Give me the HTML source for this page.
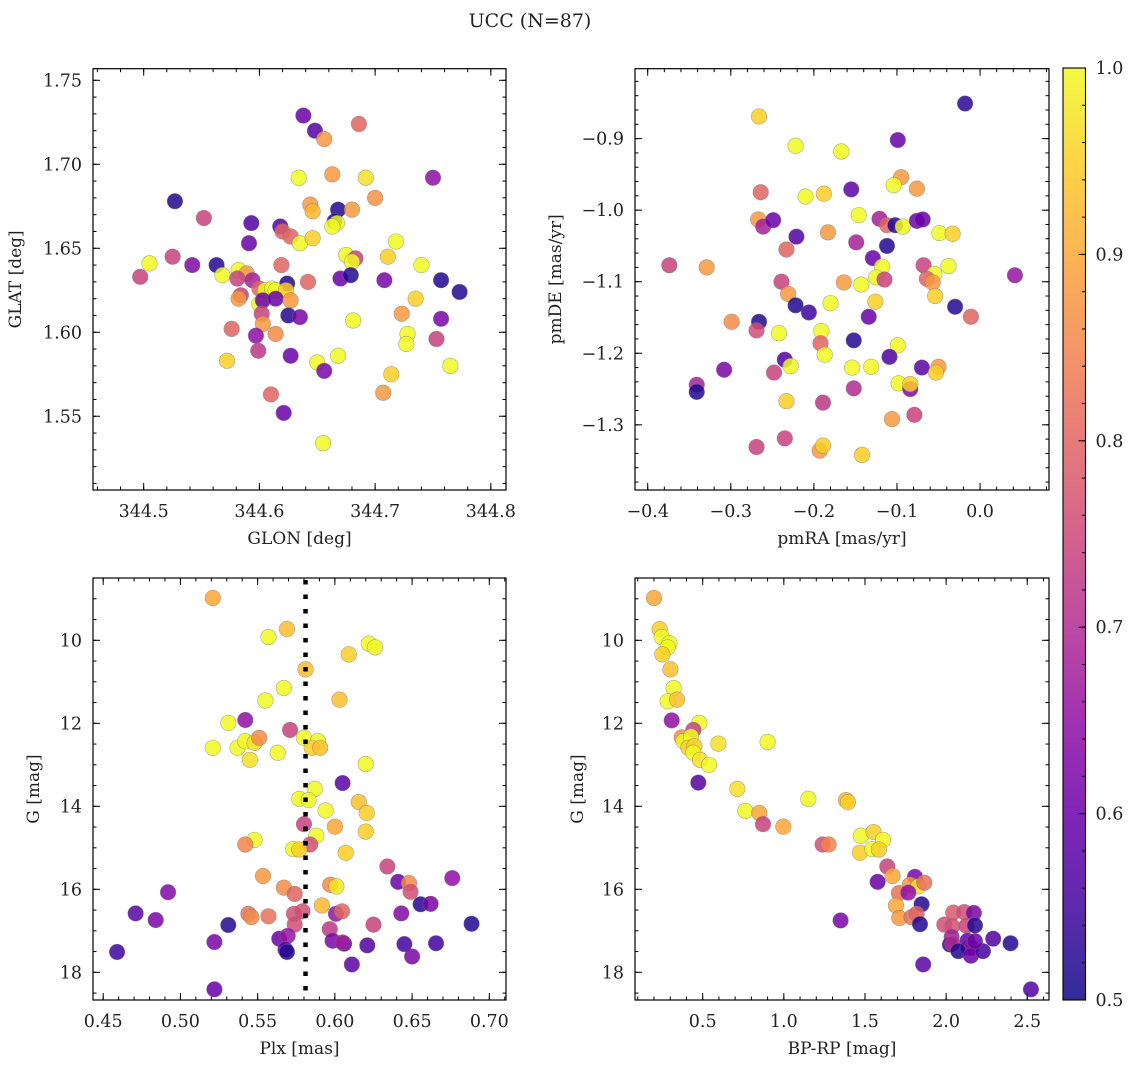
<!DOCTYPE html>
<html><head><meta charset="utf-8"><style>
html,body{margin:0;padding:0;background:#fff;}
svg text{font-family:"DejaVu Serif","Liberation Serif",serif;fill:#222;}
</style></head><body>
<svg id="fig" width="1136" height="1067" viewBox="0 0 1136 1067" xmlns="http://www.w3.org/2000/svg">
<text x="530" y="27" font-size="19" text-anchor="middle">UCC (N=87)</text>
</svg>
<script>
// ---- Panel 1: GLON / GLAT ----
const glon=[344.638,344.648,344.656,344.686,344.634,344.663,344.692,344.750,344.527,344.700,344.644,344.646,344.668,344.680,344.552,344.593,344.618,344.620,344.627,344.665,344.667,344.663,344.635,344.646,344.718,344.591,344.525,344.505,344.542,344.563,344.497,344.568,344.582,344.589,344.581,344.594,344.619,344.675,344.683,344.680,344.711,344.740,344.624,344.600,344.605,344.611,344.614,344.623,344.642,344.670,344.679,344.708,344.757,344.773,344.584,344.582,344.600,344.603,344.614,344.627,344.735,344.602,344.625,344.635,344.723,344.681,344.757,344.603,344.576,344.597,344.614,344.728,344.727,344.753,344.599,344.627,344.572,344.650,344.668,344.656,344.765,344.714,344.707,344.610,344.621,344.655];
const glat=[1.729,1.720,1.715,1.724,1.692,1.694,1.692,1.692,1.678,1.680,1.676,1.672,1.673,1.673,1.668,1.665,1.663,1.660,1.657,1.666,1.665,1.663,1.653,1.656,1.654,1.653,1.645,1.641,1.640,1.640,1.633,1.634,1.637,1.635,1.632,1.631,1.640,1.646,1.644,1.642,1.645,1.640,1.629,1.626,1.625,1.626,1.625,1.625,1.630,1.632,1.634,1.631,1.631,1.624,1.622,1.620,1.617,1.619,1.620,1.619,1.620,1.611,1.610,1.609,1.611,1.607,1.608,1.605,1.602,1.598,1.599,1.599,1.593,1.596,1.589,1.586,1.583,1.582,1.586,1.577,1.580,1.575,1.564,1.563,1.552,1.534];
const c1=[0.6,0.57,0.88,0.8,1,0.88,0.97,0.65,0.52,0.87,0.88,0.92,0.52,0.88,0.74,0.57,0.57,0.8,0.8,0.52,1,1,1,0.95,1,0.6,0.74,1,0.63,0.52,0.74,1,1,0.88,0.74,0.68,0.8,1,0.74,1,0.95,1,0.52,0.8,1,1,1,0.95,0.8,0.6,0.52,0.62,0.52,0.52,0.74,0.88,1,0.6,0.6,0.88,0.95,0.74,0.52,0.62,0.88,1,0.62,0.88,0.8,0.65,0.86,1,1,0.74,0.72,0.6,0.95,1,1,0.62,1,0.95,0.88,0.8,0.6,1];
// ---- Panel 2: pmRA / pmDE ----
const pmra=[-0.018,-0.266,-0.099,-0.222,-0.167,-0.264,-0.210,-0.188,-0.155,-0.095,-0.104,-0.076,-0.267,-0.261,-0.249,-0.146,-0.121,-0.112,-0.102,-0.093,-0.076,-0.069,-0.221,-0.183,-0.049,-0.033,-0.233,-0.149,-0.112,-0.374,-0.329,-0.129,-0.118,-0.068,-0.038,0.042,-0.055,-0.064,-0.057,-0.054,-0.239,-0.231,-0.164,-0.143,-0.125,-0.115,-0.126,-0.180,-0.222,-0.206,-0.030,-0.011,-0.134,-0.299,-0.266,-0.269,-0.242,-0.191,-0.192,-0.152,-0.099,-0.187,-0.235,-0.228,-0.154,-0.131,-0.109,-0.070,-0.050,-0.053,-0.308,-0.248,-0.341,-0.341,-0.152,-0.098,-0.084,-0.084,-0.233,-0.189,-0.079,-0.106,-0.269,-0.235,-0.193,-0.189,-0.142];
const pmde=[-0.851,-0.869,-0.902,-0.910,-0.918,-0.975,-0.981,-0.977,-0.971,-0.954,-0.965,-0.970,-1.013,-1.023,-1.014,-1.007,-1.012,-1.021,-1.021,-1.023,-1.015,-1.013,-1.037,-1.031,-1.032,-1.033,-1.055,-1.045,-1.050,-1.077,-1.080,-1.067,-1.079,-1.077,-1.078,-1.091,-1.089,-1.096,-1.101,-1.120,-1.100,-1.117,-1.101,-1.104,-1.094,-1.097,-1.128,-1.130,-1.133,-1.143,-1.135,-1.149,-1.149,-1.156,-1.156,-1.168,-1.172,-1.169,-1.186,-1.182,-1.189,-1.202,-1.209,-1.218,-1.220,-1.219,-1.205,-1.220,-1.219,-1.227,-1.223,-1.227,-1.244,-1.254,-1.249,-1.242,-1.250,-1.243,-1.267,-1.269,-1.286,-1.292,-1.331,-1.319,-1.336,-1.329,-1.342];
const c2=[0.53,0.95,0.6,1,1,0.8,1,0.95,0.58,0.88,1,0.88,0.88,0.68,0.6,1,0.68,0.8,0.52,1,0.6,0.6,0.57,0.88,1,0.95,0.8,0.68,0.52,0.74,0.88,0.6,1,0.74,1,0.66,1,0.8,0.88,0.95,0.74,0.88,0.88,1,1,0.74,0.95,1,0.52,0.55,0.52,0.8,0.6,0.86,0.52,0.76,1,1,0.8,0.52,1,1,0.57,1,1,1,0.57,0.58,0.88,0.95,0.62,0.74,0.68,0.52,0.7,1,0.63,0.95,0.95,0.72,0.74,0.88,0.74,0.74,0.88,0.95,0.95];
// ---- Panel 3: Plx / G ----
const plx=[0.521,0.557,0.569,0.622,0.626,0.609,0.581,0.567,0.555,0.603,0.531,0.542,0.571,0.521,0.537,0.542,0.548,0.551,0.545,0.563,0.580,0.589,0.585,0.5905,0.620,0.605,0.587,0.577,0.583,0.6155,0.594,0.6206,0.580,0.600,0.620,0.588,0.548,0.542,0.584,0.573,0.577,0.607,0.634,0.5535,0.641,0.676,0.648,0.649,0.597,0.601,0.567,0.574,0.492,0.6555,0.662,0.5916,0.471,0.484,0.544,0.546,0.557,0.5735,0.579,0.6007,0.6046,0.643,0.6885,0.531,0.574,0.625,0.5967,0.522,0.564,0.5695,0.5985,0.606,0.605,0.621,0.645,0.6655,0.568,0.569,0.459,0.650,0.611,0.522];
const g3=[8.98,9.92,9.73,10.08,10.17,10.34,10.70,11.15,11.45,11.43,11.99,11.92,12.16,12.59,12.59,12.43,12.47,12.35,12.88,12.71,12.35,12.43,12.59,12.59,12.98,13.44,13.58,13.82,13.85,13.90,14.10,14.16,14.43,14.49,14.61,14.71,14.81,14.92,14.92,15.03,15.04,15.12,15.45,15.68,15.82,15.73,15.85,16.06,15.89,15.93,15.96,16.11,16.07,16.36,16.35,16.39,16.58,16.74,16.59,16.67,16.65,16.59,16.53,16.59,16.53,16.58,16.83,16.86,16.85,16.85,16.96,17.27,17.19,17.12,17.24,17.31,17.28,17.35,17.32,17.30,17.45,17.51,17.51,17.62,17.81,18.41];
const c3=[0.9,1,0.93,1,1,0.95,0.93,1,1,0.93,1,0.65,0.74,1,1,1,0.97,0.86,0.97,1,1,1,0.95,0.93,1,0.58,1,1,1,0.93,1,0.95,0.74,0.9,0.95,1,1,0.85,0.76,1,0.95,0.95,0.74,0.88,0.6,0.65,0.86,0.76,0.86,0.98,0.86,0.8,0.63,0.52,0.62,0.92,0.58,0.62,0.82,0.86,0.82,0.76,0.76,0.66,0.8,0.63,0.52,0.52,0.76,0.74,0.72,0.62,0.6,0.66,0.62,0.57,0.68,0.57,0.55,0.55,0.58,0.52,0.55,0.62,0.58,0.6];
// ---- Panel 4: BP-RP / G ----
const bprp=[0.20,0.235,0.247,0.295,0.284,0.2515,0.301,0.321,0.284,0.342,0.309,0.4795,0.4425,0.371,0.381,0.428,0.412,0.449,0.4425,0.4836,0.539,0.5965,0.900,0.473,0.7135,0.763,0.849,0.8717,0.997,1.151,1.383,1.395,1.239,1.276,1.475,1.553,1.611,1.469,1.545,1.586,1.6376,1.578,1.670,1.808,1.777,1.8285,1.8655,1.709,1.767,1.691,1.849,1.7115,1.787,1.818,1.839,1.350,2.044,2.112,2.171,1.989,2.038,2.126,2.178,2.034,2.0236,2.038,2.132,2.137,2.157,2.075,2.153,2.227,2.290,2.397,1.859,2.5226,2.178];
const g4=[8.98,9.73,9.92,10.07,10.17,10.34,10.70,11.15,11.47,11.43,11.93,11.99,12.16,12.34,12.43,12.32,12.59,12.55,12.71,12.88,13.00,12.49,12.45,13.43,13.58,14.11,14.16,14.43,14.49,13.82,13.85,13.90,14.92,14.92,14.71,14.62,14.81,15.12,15.03,15.04,15.45,15.82,15.68,15.70,15.89,15.93,15.84,16.09,16.08,16.39,16.36,16.69,16.67,16.59,16.84,16.75,16.56,16.55,16.57,16.85,16.89,16.88,16.87,17.15,17.33,17.31,17.24,17.40,17.41,17.49,17.60,17.49,17.19,17.30,17.81,18.41,17.25];
const c4=[0.9,0.95,1,1,1,0.95,0.93,1,1,0.93,0.65,1,0.74,0.86,1,1,0.95,0.95,1,0.97,1,0.97,1,0.57,0.97,1,0.9,0.74,0.9,1,0.92,0.95,0.76,0.85,1,0.95,1,0.95,1,0.95,0.74,0.6,0.9,0.62,0.88,0.97,0.82,0.82,0.65,0.9,0.52,0.88,0.82,0.8,0.52,0.62,0.78,0.76,0.62,0.76,0.76,0.74,0.52,0.68,0.55,0.7,0.58,0.6,0.66,0.52,0.6,0.55,0.57,0.52,0.58,0.57,0.6];
const cbTicks=[0.5,0.6,0.7,0.8,0.9,1.0];

const NS='http://www.w3.org/2000/svg';
const svg=document.getElementById('fig');
function el(tag,attrs,parent){const e=document.createElementNS(NS,tag);for(const k in attrs)e.setAttribute(k,attrs[k]);(parent||svg).appendChild(e);return e;}
const stops=[[0,[13,8,135]],[0.1,[65,4,157]],[0.2,[106,0,168]],[0.3,[143,13,164]],[0.4,[177,42,144]],[0.5,[204,71,120]],[0.6,[225,100,98]],[0.7,[242,132,75]],[0.8,[252,166,54]],[0.9,[252,206,37]],[1,[240,249,33]]];
function cmap(v){let t=(v-0.5)/0.5;t=Math.max(0,Math.min(1,t));for(let i=1;i<stops.length;i++){if(t<=stops[i][0]){const a=stops[i-1],b=stops[i];const f=(t-a[0])/(b[0]-a[0]);const c=a[1].map((x,j)=>Math.round(x+(b[1][j]-x)*f));return 'rgb('+c.join(',')+')';}}return 'rgb(240,249,33)';}

function fmt(v,d){let s=v.toFixed(d);return s.replace('-','\u2212');}
function panel(cfg){
  const {name,L,R,T,B,x0,x1,y0,y1,xMaj,xMin,yMaj,yMin,xd,yd,xlab,ylab,ylabX}=cfg;
  const g=el('g',{});
  
  
  const sx=v=>L+(v-x0)/(x1-x0)*(R-L);
  const sy=v=>T+(v-y0)/(y1-y0)*(B-T);
  const tg=el('g',{stroke:'#000','stroke-width':1},g);
  
  
  function ticks(list,len,isX){list.forEach(v=>{if(isX){const x=sx(v);if(x<L-0.5||x>R+0.5)return;el('line',{x1:x,x2:x,y1:B,y2:B-len},tg);el('line',{x1:x,x2:x,y1:T,y2:T+len},tg);}else{const y=sy(v);if(y<Math.min(T,B)-0.5||y>Math.max(T,B)+0.5)return;el('line',{x1:L,x2:L+len,y1:y,y2:y},tg);el('line',{x1:R,x2:R-len,y1:y,y2:y},tg);}});}
  ticks(xMin,3.5,true);ticks(xMaj,7,true);ticks(yMin,3.5,false);ticks(yMaj,7,false);
  xMaj.forEach(v=>{const x=sx(v);if(x<L-0.5||x>R+0.5)return;const t=el('text',{x:x,y:B+27,'font-size':17.5,'text-anchor':'middle'},g);t.textContent=fmt(v,xd);});
  yMaj.forEach(v=>{const y=sy(v);if(y<Math.min(T,B)-0.5||y>Math.max(T,B)+0.5)return;const t=el('text',{x:L-11,y:y+6,'font-size':17.5,'text-anchor':'end'},g);t.textContent=fmt(v,yd);});
  const xl=el('text',{x:(L+R)/2,y:B+54,'font-size':17,'text-anchor':'middle'},g);
  
  
  xl.textContent=xlab;
  const yl=el('text',{x:ylabX,y:(T+B)/2,'font-size':17,'text-anchor':'middle',transform:'rotate(-90 '+ylabX+' '+((T+B)/2)+')'},g);
  
  
  yl.textContent=ylab;
  const fr=el('rect',{x:L,y:Math.min(T,B),width:R-L,height:Math.abs(B-T),fill:'none',stroke:'#000','stroke-width':1.2},g);
  
  
  return {g,sx,sy};
}
function scatter(p,xs,ys,cs,name){
  const gg=el('g',{},p.g);
  
  
  for(let i=0;i<xs.length;i++){
    const c=el('circle',{cx:p.sx(xs[i]),cy:p.sy(ys[i]),r:7.8,fill:cmap(cs[i]),'fill-opacity':0.85,stroke:'#777','stroke-opacity':0.6,'stroke-width':0.6},gg);
    
    
  }
}
function rng(a,b,s){const r=[];for(let v=a;v<=b+1e-9;v+=s)r.push(Math.round(v*10000)/10000);return r;}

const p1=panel({name:'glon-glat',L:93,R:506,T:68.7,B:490,x0:344.4562,x1:344.8131,y0:1.7569,y1:1.5061,
  xMaj:rng(344.5,344.8,0.1),xMin:rng(344.46,344.82,0.02),yMaj:rng(1.55,1.75,0.05),yMin:rng(1.51,1.76,0.01),xd:1,yd:2,
  xlab:'GLON [deg]',ylab:'GLAT [deg]',ylabX:21});
scatter(p1,glon,glat,c1,'glon-glat');

const p2=panel({name:'pm',L:635,R:1049,T:68.7,B:490,x0:-0.4153,x1:0.083,y0:-0.8023,y1:-1.3911,
  xMaj:rng(-0.4,0.0,0.1),xMin:rng(-0.42,0.08,0.02),yMaj:rng(-1.3,-0.9,0.1),yMin:rng(-1.38,-0.82,0.02),xd:1,yd:1,
  xlab:'pmRA [mas/yr]',ylab:'pmDE [mas/yr]',ylabX:561});
scatter(p2,pmra,pmde,c2,'pm');

const p3=panel({name:'plx-g',L:93,R:506,T:578,B:1000,x0:0.4434,x1:0.7108,y0:8.499,y1:18.667,
  xMaj:rng(0.45,0.70,0.05),xMin:rng(0.44,0.71,0.01),yMaj:rng(10,18,2),yMin:rng(8.5,18.5,0.5),xd:2,yd:0,
  xlab:'Plx [mas]',ylab:'G [mag]',ylabX:39});
const plxMedian=0.581;
scatter(p3,plx,g3,c3,'plx-g');
const dl=el('line',{x1:p3.sx(plxMedian),x2:p3.sx(plxMedian),y1:580,y2:1000,stroke:'#000','stroke-width':4.5,'stroke-dasharray':'4.5 10'},p3.g);



const p4=panel({name:'cmd',L:635,R:1049,T:578,B:1000,x0:0.0829,x1:2.634,y0:8.499,y1:18.667,
  xMaj:rng(0.5,2.5,0.5),xMin:rng(0.1,2.6,0.1),yMaj:rng(10,18,2),yMin:rng(8.5,18.5,0.5),xd:1,yd:0,
  xlab:'BP-RP [mag]',ylab:'G [mag]',ylabX:583});
scatter(p4,bprp,g4,c4,'cmd');

// colorbar
const cb=el('g',{});


const defs=el('defs',{},svg);
const lg=el('linearGradient',{id:'cbg',x1:0,y1:1,x2:0,y2:0},defs);
for(let i=0;i<=20;i++){el('stop',{offset:i/20,'stop-color':cmap(0.5+i/40),'stop-opacity':0.85},lg);}
const CBL=1063,CBR=1085.5,CBT=68,CBB=1000;
el('rect',{x:CBL,y:CBT,width:CBR-CBL,height:CBB-CBT,fill:'url(#cbg)',stroke:'#000','stroke-width':1.1},cb);
const cy=v=>CBB-(v-0.5)/0.5*(CBB-CBT);
rng(0.52,0.98,0.02).forEach(v=>el('line',{x1:CBR,x2:CBR-3.5,y1:cy(v),y2:cy(v),stroke:'#000','stroke-width':1},cb));
cbTicks.forEach(v=>{el('line',{x1:CBR,x2:CBR-7,y1:cy(v),y2:cy(v),stroke:'#000','stroke-width':1},cb);
  const t=el('text',{x:CBR+10,y:cy(v)+6,'font-size':17.5},cb);
  
  
  t.textContent=v.toFixed(1);});
</script>
</body></html>
